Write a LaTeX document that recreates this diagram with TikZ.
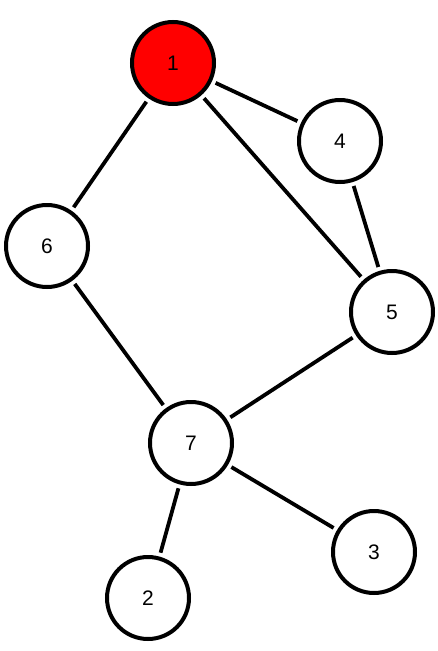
\documentclass[tikz,border=0pt]{standalone}
\usepackage{fontspec}
\setmainfont{Liberation Sans}
\begin{document}
\begin{tikzpicture}[x=1pt,y=-1pt,
  vertex/.style={circle,draw=black,line width=4pt,fill=white,minimum size=82pt,inner sep=0pt,font=\fontsize{21pt}{21pt}\selectfont},
  root/.style={vertex,fill=red},
  edge/.style={draw=black,line width=3.8pt,shorten <=4pt,shorten >=4pt}]
\useasboundingbox (0,0) rectangle (438,651);
\node[root] (n1) at (173,63) {1};
\node[vertex] (n4) at (340,141) {4};
\node[vertex] (n6) at (47,246) {6};
\node[vertex] (n5) at (392,312) {5};
\node[vertex] (n7) at (191,443) {7};
\node[vertex] (n3) at (374,552) {3};
\node[vertex] (n2) at (148,598) {2};
\draw[edge] (n1) -- (n4);
\draw[edge] (n1) -- (n6);
\draw[edge] (n1) -- (n5);
\draw[edge] (n4) -- (n5);
\draw[edge] (n6) -- (n7);
\draw[edge] (n5) -- (n7);
\draw[edge] (n7) -- (n2);
\draw[edge] (n7) -- (n3);
\end{tikzpicture}
\end{document}
